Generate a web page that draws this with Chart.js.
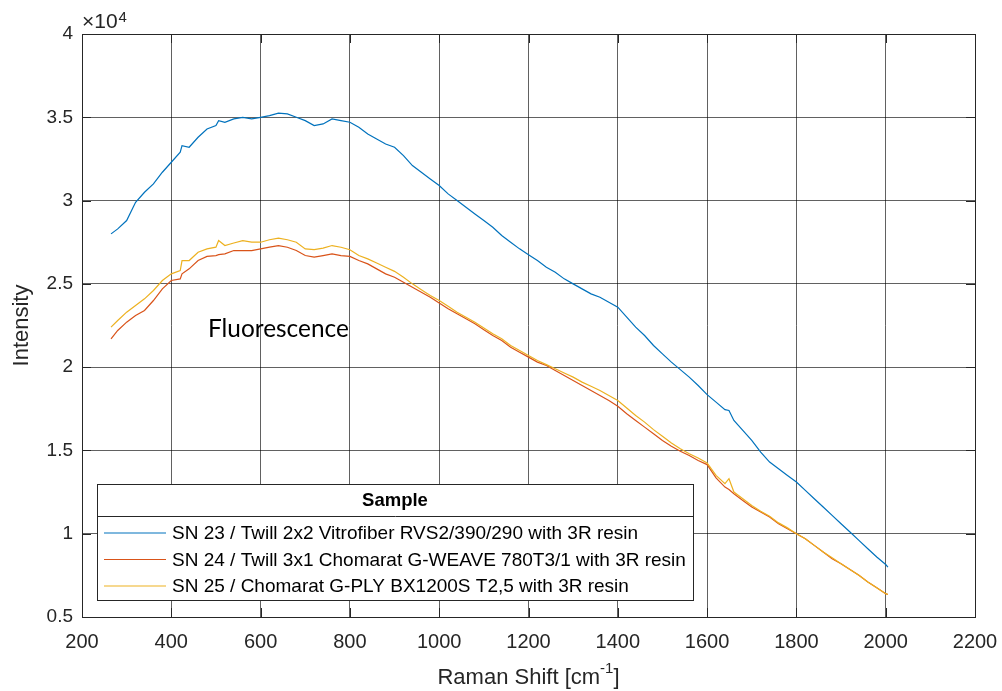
<!DOCTYPE html>
<html>
<head>
<meta charset="utf-8">
<script src="https://cdn.jsdelivr.net/npm/chart.js@4.4.0/dist/chart.umd.min.js"></script>
<style>
html, body { margin: 0; padding: 0; background: #fff; }
#wrap { width: 1002px; height: 691px; }
</style>
</head>
<body>
<div id="wrap"><canvas id="chart" width="1002" height="691"></canvas></div>
<script>
// Raman shift positions (cm-1) shared by the three spectra
const shift = [265, 280, 300, 320, 340, 360, 380, 400,
  420, 424, 440, 460, 480, 500, 506, 520,
  540, 560, 580, 600, 620, 640, 660, 680, 700, 720, 740, 760, 780, 800,
  820, 840, 860, 880, 900, 920, 940, 960, 980, 1000, 1020, 1040, 1060, 1080, 1100, 1120,
  1140, 1160, 1180, 1200, 1220, 1240, 1260, 1280, 1300, 1320, 1340, 1360, 1380, 1400,
  1420, 1440, 1460, 1480, 1500, 1520, 1540, 1560, 1580, 1600, 1620, 1640,
  1649,
  1660, 1680, 1700, 1720, 1740, 1760, 1780, 1800, 1820, 1840, 1860, 1880, 1900, 1920,
  1940, 1960, 1980, 2000, 2005];

// intensities (counts)
const sn23 = [28000, 28300, 28800, 29900, 30500, 31000, 31700, 32300,
  32900, 33300, 33200, 33800, 34300, 34500, 34800, 34700,
  34900, 35000, 34900, 35000, 35100, 35250, 35200, 35000, 34800, 34500, 34600, 34900, 34800, 34700,
  34400, 34000, 33700, 33400, 33200, 32700, 32100, 31700, 31300, 30900, 30400, 30000, 29600, 29200, 28800, 28400,
  27900, 27500, 27100, 26750, 26400, 26000, 25700, 25300, 25000, 24700, 24400, 24200, 23900, 23600,
  23000, 22400, 21900, 21300, 20800, 20300, 19850, 19400, 18900, 18350, 17900, 17450,
  17400,
  16800, 16200, 15600, 14900, 14300, 13900, 13500, 13100, 12600, 12100, 11600, 11100, 10600, 10100,
  9600, 9100, 8600, 8150, 8000];

const sn24 = [21700, 22200, 22700, 23100, 23400, 24000, 24700, 25200,
  25300, 25600, 25900, 26400, 26650, 26700, 26750, 26800,
  27000, 27000, 27000, 27100, 27200, 27300, 27200, 27000, 26700, 26600, 26700, 26800, 26700, 26650,
  26400, 26200, 25900, 25600, 25400, 25100, 24800, 24500, 24200, 23850, 23500, 23200, 22900, 22600, 22250, 21900,
  21600, 21200, 20900, 20600, 20300, 20100, 19800, 19500, 19200, 18900, 18600, 18300, 18000, 17650,
  17200, 16800, 16400, 16000, 15600, 15250, 14950, 14700, 14400, 14150, 13350, 12800,
  12650,
  12400, 12000, 11600, 11300, 11000, 10600, 10300, 10000, 9700, 9300, 8900, 8500, 8200, 7850,
  7500, 7100, 6750, 6400, 6350];

const sn25 = [22400, 22800, 23300, 23700, 24100, 24600, 25200, 25600,
  25800, 26400, 26400, 26900, 27100, 27200, 27600, 27300,
  27450, 27600, 27500, 27500, 27650, 27750, 27650, 27500, 27100, 27050, 27150, 27300, 27200, 27050,
  26700, 26500, 26250, 26000, 25750, 25400, 25000, 24650, 24300, 24000, 23650, 23300, 23000, 22700, 22350, 22000,
  21700, 21300, 21000, 20700, 20400, 20150, 19900, 19650, 19400, 19100, 18850, 18600, 18300, 18000,
  17550, 17100, 16700, 16250, 15850, 15450, 15100, 14800, 14550, 14250, 13500, 13000,
  13300,
  12500, 12100, 11700, 11350, 11050, 10650, 10350, 10000, 9700, 9300, 8900, 8550, 8200, 7850,
  7500, 7100, 6750, 6400, 6350];

const seriesLabels = [
  'SN 23 / Twill 2x2 Vitrofiber RVS2/390/290 with 3R resin',
  'SN 24 / Twill 3x1 Chomarat G-WEAVE 780T3/1 with 3R resin',
  'SN 25 / Chomarat G-PLY BX1200S T2,5 with 3R resin'
];
const seriesColors = ['#0072BD', '#D95319', '#EDB120'];

const legendTitle = 'Sample';
const noteText = 'Fluorescence';
const xTitle = 'Raman Shift [cm';
const yTitle = 'Intensity';

const axisColor = '#262626';
const tickFont = '"Liberation Sans", Arial, sans-serif';

const toPoints = (vals) => shift.map((x, i) => ({ x: x, y: vals[i] }));

// frame, inward ticks, exponent, titles, note and the boxed legend
const matlabFrame = {
  id: 'matlabFrame',
  afterDraw(chart) {
    const ctx = chart.ctx;
    const a = chart.chartArea;
    const xs = chart.scales.x, ys = chart.scales.y;
    ctx.save();

    // inward tick marks on all four sides
    ctx.strokeStyle = axisColor;
    ctx.lineWidth = 1;
    ctx.beginPath();
    xs.ticks.forEach(t => {
      const px = Math.round(xs.getPixelForValue(t.value)) + 0.5;
      ctx.moveTo(px, a.bottom); ctx.lineTo(px, a.bottom - 9);
      ctx.moveTo(px, a.top); ctx.lineTo(px, a.top + 9);
    });
    ys.ticks.forEach(t => {
      const py = Math.round(ys.getPixelForValue(t.value)) + 0.5;
      ctx.moveTo(a.left, py); ctx.lineTo(a.left + 9, py);
      ctx.moveTo(a.right, py); ctx.lineTo(a.right - 9, py);
    });
    ctx.stroke();

    // box
    ctx.strokeRect(Math.round(a.left) + 0.5, Math.round(a.top) + 0.5,
      Math.round(a.right - a.left), Math.round(a.bottom - a.top));

    // x10^4 exponent
    ctx.fillStyle = axisColor;
    ctx.textBaseline = 'alphabetic';
    ctx.textAlign = 'left';
    ctx.font = '21px ' + tickFont;
    ctx.fillText('\u00d710', a.left, 28);
    const ew = ctx.measureText('\u00d710').width;
    ctx.font = '15px ' + tickFont;
    ctx.fillText('4', a.left + ew + 1, 22);

    // x axis title with superscript
    ctx.font = '22px ' + tickFont;
    const w1 = ctx.measureText(xTitle).width;
    ctx.font = '15px ' + tickFont;
    const w2 = ctx.measureText('-1').width;
    ctx.font = '22px ' + tickFont;
    const w3 = ctx.measureText(']').width;
    const sx = (a.left + a.right) / 2 - (w1 + w2 + w3) / 2;
    const by = 684;
    ctx.fillText(xTitle, sx, by);
    ctx.font = '15px ' + tickFont;
    ctx.fillText('-1', sx + w1, by - 11);
    ctx.font = '22px ' + tickFont;
    ctx.fillText(']', sx + w1 + w2, by);

    // y axis title
    ctx.save();
    ctx.translate(28, (a.top + a.bottom) / 2);
    ctx.rotate(-Math.PI / 2);
    ctx.textAlign = 'center';
    ctx.fillText(yTitle, 0, 0);
    ctx.restore();

    // annotation
    ctx.fillStyle = '#000';
    ctx.font = '22px Lato, "Open Sans", sans-serif';
    const nw = ctx.measureText(noteText).width;
    const ns = 22 * 141 / nw;
    ctx.font = ns.toFixed(1) + 'px Lato, "Open Sans", sans-serif';
    ctx.fillText(noteText, 208, 337);

    // legend box
    const lx = 97.5, ly = 484.5, lw = 596, lh = 116;
    ctx.fillStyle = '#fff';
    ctx.fillRect(lx, ly, lw, lh);
    ctx.strokeStyle = axisColor;
    ctx.lineWidth = 1;
    ctx.strokeRect(lx, ly, lw, lh);
    ctx.beginPath();
    ctx.moveTo(lx, 516.5); ctx.lineTo(lx + lw, 516.5);
    ctx.stroke();
    ctx.fillStyle = '#000';
    ctx.textAlign = 'center';
    ctx.textBaseline = 'middle';
    ctx.font = 'bold 18.5px ' + tickFont;
    ctx.fillText(legendTitle, 395, 501);
    ctx.textAlign = 'left';
    ctx.font = '19px ' + tickFont;
    const rows = [533, 559.5, 586];
    chart.data.datasets.forEach((ds, i) => {
      ctx.strokeStyle = ds.borderColor;
      ctx.lineWidth = 1.2;
      ctx.beginPath();
      ctx.moveTo(104, rows[i]); ctx.lineTo(166, rows[i]);
      ctx.stroke();
      ctx.fillStyle = '#000';
      ctx.fillText(ds.label, 172, rows[i] + 1);
    });

    ctx.restore();
  }
};

new Chart(document.getElementById('chart'), {
  type: 'line',
  data: {
    datasets: [
      { label: seriesLabels[0], data: toPoints(sn23), borderColor: seriesColors[0], order: 2 },
      { label: seriesLabels[1], data: toPoints(sn24), borderColor: seriesColors[1], order: 1 },
      { label: seriesLabels[2], data: toPoints(sn25), borderColor: seriesColors[2], order: 0 }
    ]
  },
  options: {
    responsive: false,
    animation: false,
    elements: {
      point: { radius: 0 },
      line: { borderWidth: 1.2, tension: 0 }
    },
    layout: { padding: { top: 34, right: 27, left: 0, bottom: 0 } },
    plugins: {
      legend: { display: false },
      tooltip: { enabled: false }
    },
    scales: {
      x: {
        type: 'linear',
        min: 200,
        max: 2200,
        afterFit: (s) => { s.height = 74; s.paddingLeft = 0; s.paddingRight = 0; },
        grid: { color: 'rgba(0,0,0,0.62)', drawTicks: false },
        border: { display: false },
        ticks: {
          stepSize: 200,
          padding: 13,
          color: axisColor,
          maxRotation: 0,
          font: { family: tickFont, size: 20 },
          callback: (v) => String(v)
        }
      },
      y: {
        min: 5000,
        max: 40000,
        afterFit: (s) => { s.width = 82; s.paddingTop = 0; s.paddingBottom = 0; },
        grid: { color: 'rgba(0,0,0,0.62)', drawTicks: false },
        border: { display: false },
        ticks: {
          stepSize: 5000,
          padding: 9,
          color: axisColor,
          font: { family: tickFont, size: 19 },
          callback: (v) => String(v / 10000)
        }
      }
    }
  },
  plugins: [matlabFrame]
});
</script>
</body>
</html>
